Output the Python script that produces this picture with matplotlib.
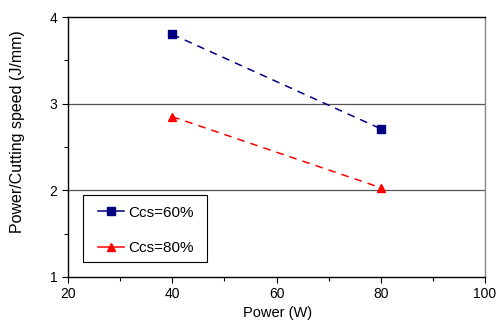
import matplotlib
matplotlib.use("Agg")
import matplotlib.pyplot as plt
from matplotlib.ticker import MultipleLocator
from matplotlib.patches import Rectangle

plt.rcParams['font.family'] = ['Liberation Sans', 'DejaVu Sans']

power = [40, 80]
ccs60 = [3.80, 2.71]
ccs80 = [2.85, 2.03]
labels = ["Ccs=60%", "Ccs=80%"]

fig = plt.figure(figsize=(5.03, 3.24), dpi=100)
ax = fig.add_axes([68/503, 1-277/324, 417/503, 260/324])

ax.plot(power, ccs60, color='#000080', linestyle=(0, (5, 4)), linewidth=1.1,
        marker='s', markersize=6, label=labels[0])
ax.plot(power, ccs80, color='#FF0000', linestyle=(0, (5, 4)), linewidth=1.1,
        marker='^', markersize=6, label=labels[1])

ax.set_xlim(20, 100)
ax.set_ylim(1, 4)
ax.xaxis.set_major_locator(MultipleLocator(20))
ax.xaxis.set_minor_locator(MultipleLocator(10))
ax.yaxis.set_major_locator(MultipleLocator(1))
ax.yaxis.set_minor_locator(MultipleLocator(0.5))
ax.tick_params(which='both', direction='out', length=4, width=0.8, labelsize=10)
ax.tick_params(which='minor', length=3)
for y in [2, 3]:
    ax.axhline(y, color='#555555', linewidth=0.9, zorder=0)
ax.spines['right'].set_color('#888888')
ax.spines['top'].set_color('#000000')
for s in ax.spines.values():
    s.set_linewidth(1.0)

ax.set_xlabel("Power (W)", fontsize=10.5)
ax.xaxis.set_label_coords(0.502, -0.138)
ax.set_ylabel("Power/Cutting speed (J/mm)", fontsize=11.5)
ax.yaxis.set_label_coords(-0.12, 0.558)
ax.xaxis.label.set_va('center')
ax.yaxis.label.set_va('center')

# legend frame
ax.add_patch(Rectangle((0.036, 0.058), 0.297, 0.257, transform=ax.transAxes,
                       facecolor='white', edgecolor='black', linewidth=0.8,
                       zorder=4))
leg = ax.legend(loc='center', bbox_to_anchor=(0.187, 0.179), fontsize=11,
                frameon=False, handlelength=1.65, labelspacing=1.4,
                borderpad=0.3, handletextpad=0.3, borderaxespad=0)
leg.set_zorder(5)
for h in leg.get_lines():
    h.set_linestyle('-')

fig.savefig("out.png", dpi=100)
